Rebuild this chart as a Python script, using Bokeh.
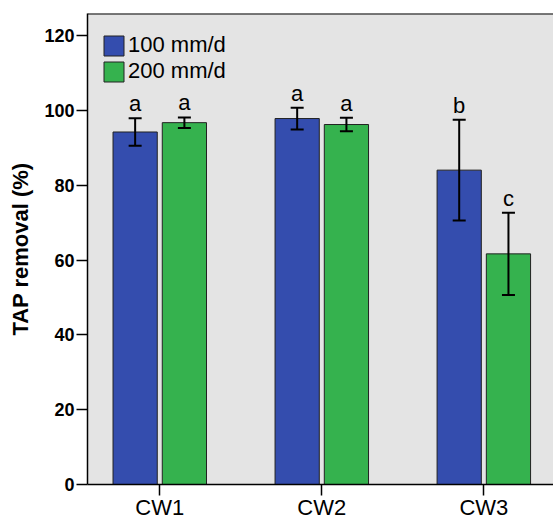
from bokeh.plotting import figure
from bokeh.models import ColumnDataSource, Whisker, TeeHead, FixedTicker, Span, LabelSet
from bokeh.transform import dodge
from bokeh.core.properties import value
from bokeh.embed import file_html
from bokeh.resources import INLINE

# ---- data ----
categories = ["CW1", "CW2", "CW3"]
series_labels = ["100 mm/d", "200 mm/d"]
mean_100 = [94.3, 97.9, 84.1]
err_100 = [3.7, 2.9, 13.5]
mean_200 = [96.8, 96.3, 61.7]
err_200 = [1.4, 1.8, 11.0]
letters_100 = ["a", "a", "b"]
letters_200 = ["a", "a", "c"]
y_ticks = [0, 20, 40, 60, 80, 100, 120]

FONT = "Liberation Sans"
BLUE = "#344DAE"
GREEN = "#35B24E"
BG = "#E4E4E4"

xs = list(range(len(categories)))

def make_src(means, errs, letters):
    return ColumnDataSource(dict(
        x=xs,
        top=means,
        upper=[m + e for m, e in zip(means, errs)],
        lower=[m - e for m, e in zip(means, errs)],
        letter=letters,
    ))

src_100 = make_src(mean_100, err_100, letters_100)
src_200 = make_src(mean_200, err_200, letters_200)

Y_END = 126.0
p = figure(width=553, height=522, x_range=(-0.446, 2.43), y_range=(0, Y_END),
           output_backend="svg", toolbar_location=None,
           min_border_left=87, min_border_right=0, min_border_top=13, min_border_bottom=0)
p.background_fill_color = BG
p.border_fill_color = "white"
p.outline_line_color = None
p.grid.grid_line_color = None

OFF = 0.152
W = 0.273
for src, off, color, lab in [(src_100, -OFF, BLUE, series_labels[0]),
                             (src_200, OFF, GREEN, series_labels[1])]:
    p.vbar(x=dodge("x", off), top="top", bottom=0, width=W, source=src,
           fill_color=color, line_color="#222222", line_width=1, legend_label=lab)
    wk = Whisker(base=dodge("x", off), upper="upper", lower="lower", source=src,
                 line_color="black", line_width=2, level="overlay",
                 upper_head=TeeHead(size=13, line_color="black", line_width=2),
                 lower_head=TeeHead(size=13, line_color="black", line_width=2))
    p.add_layout(wk)
    ls = LabelSet(x=dodge("x", off), y="upper", text="letter", source=src,
                  text_align="center", text_baseline="alphabetic", y_offset=7,
                  text_font=value(FONT), text_font_size="22px", text_color="black")
    p.add_layout(ls)

p.add_layout(Span(location=Y_END - 0.1, dimension="width", line_color="black", line_width=1.5))

# axes
p.xaxis.ticker = FixedTicker(ticks=xs)
p.xaxis.major_label_overrides = {i: c for i, c in zip(xs, categories)}
p.xaxis.major_label_text_font = FONT
p.xaxis.major_label_text_font_size = "22px"
p.xaxis.major_label_text_color = "black"
p.xaxis.major_label_standoff = -1
p.xaxis.major_tick_in = 0
p.xaxis.major_tick_out = 11
p.xaxis.minor_tick_line_color = None
p.xaxis.axis_line_color = "black"
p.xaxis.axis_line_width = 1.5
p.xaxis.major_tick_line_color = "black"
p.xaxis.major_tick_line_width = 1.5

p.yaxis.ticker = FixedTicker(ticks=y_ticks)
p.yaxis.major_label_text_font = FONT
p.yaxis.major_label_text_font_size = "18px"
p.yaxis.major_label_text_font_style = "bold"
p.yaxis.major_label_text_color = "black"
p.yaxis.major_label_standoff = 2
p.yaxis.major_tick_in = 0
p.yaxis.major_tick_out = 11
p.yaxis.minor_tick_line_color = None
p.yaxis.axis_line_color = "black"
p.yaxis.axis_line_width = 1.5
p.yaxis.major_tick_line_color = "black"
p.yaxis.major_tick_line_width = 1.5
p.yaxis.axis_label = "TAP removal (%)"
p.yaxis.axis_label_text_font = FONT
p.yaxis.axis_label_text_font_size = "22px"
p.yaxis.axis_label_text_font_style = "bold"
p.yaxis.axis_label_text_color = "black"
p.yaxis.axis_label_standoff = 8

# legend
lg = p.legend[0]
lg.location = "top_left"
lg.background_fill_alpha = 0
lg.border_line_color = None
lg.title = " "
lg.title_text_font_size = "4px"
lg.title_standoff = 0
lg.glyph_width = 25
lg.glyph_height = 25
lg.label_text_font = FONT
lg.label_text_font_size = "22px"
lg.label_text_line_height = 1.0
lg.label_text_color = "black"
lg.label_standoff = 2
lg.spacing = 0
lg.margin = 14
lg.padding = 0

open("out.html", "w").write(file_html(p, INLINE))
